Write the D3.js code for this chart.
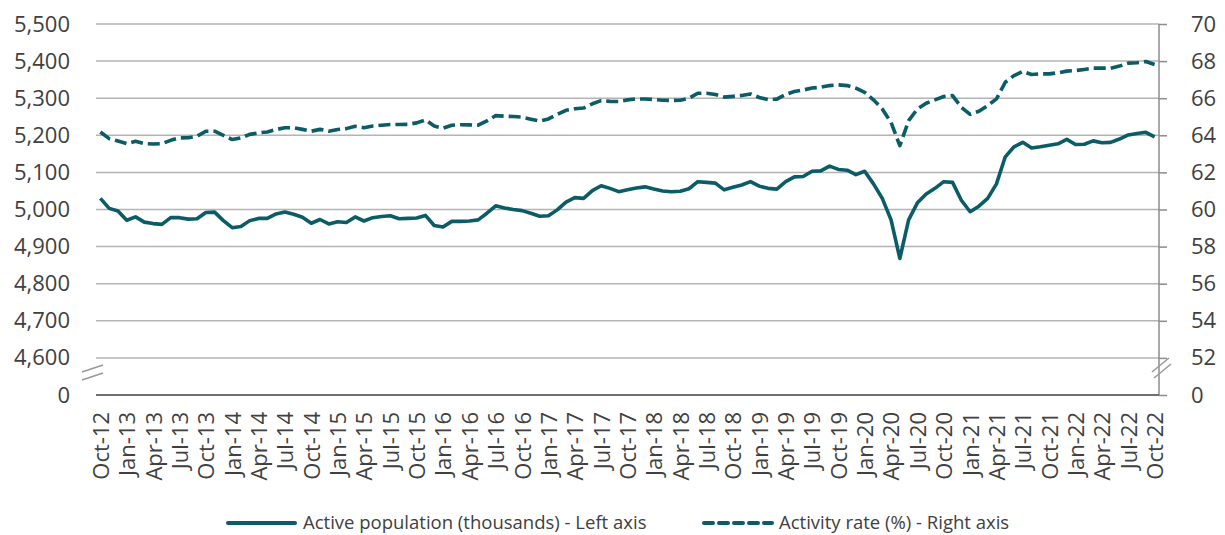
<!DOCTYPE html>
<html>
<head>
<meta charset="utf-8">
<script src="https://cdn.jsdelivr.net/npm/d3@7"></script>
<style>
  html, body { margin: 0; padding: 0; background: #fff; }
  svg text { font-family: "Open Sans", sans-serif; fill: #404040; }
</style>
</head>
<body>
<svg id="chart" width="1225" height="535"></svg>
<script>
// ---------------- DATA ----------------
const monthNames = ["Jan","Feb","Mar","Apr","May","Jun","Jul","Aug","Sep","Oct","Nov","Dec"];
const categories = [];
for (let k = 0; k < 121; k++) {
  const m = (9 + k) % 12, y = 12 + Math.floor((9 + k) / 12);
  categories.push(monthNames[m] + "-" + y);
}

const activePopulation = [
  5030,5003,4996,4971,4980,4966,4962,4960,4978,4978,4974,4975,
  4992,4993,4970,4951,4954,4970,4976,4976,4988,4993,4987,4979,
  4963,4973,4961,4967,4965,4980,4969,4978,4981,4983,4975,4976,
  4977,4984,4957,4953,4968,4968,4969,4972,4990,5010,5004,5000,
  4997,4990,4982,4983,4999,5020,5032,5030,5051,5064,5057,5048,
  5053,5058,5061,5055,5050,5048,5049,5056,5075,5073,5071,5053,
  5060,5066,5075,5063,5057,5055,5075,5088,5089,5103,5104,5117,
  5108,5106,5094,5103,5069,5030,4972,4868,4972,5018,5042,5057,
  5075,5073,5025,4994,5009,5030,5069,5142,5169,5181,5166,5169,
  5173,5177,5189,5175,5176,5185,5180,5181,5190,5201,5205,5208,
  5196
];

const activityRate = [
  64.18,63.82,63.69,63.55,63.68,63.55,63.53,63.55,63.73,63.86,63.87,63.95,
  64.22,64.22,64.00,63.77,63.86,64.05,64.13,64.18,64.31,64.41,64.40,64.32,
  64.22,64.32,64.22,64.31,64.36,64.49,64.41,64.50,64.54,64.58,64.58,64.59,
  64.67,64.83,64.50,64.38,64.54,64.57,64.56,64.55,64.78,65.06,65.03,65.01,
  64.98,64.87,64.77,64.88,65.12,65.35,65.43,65.47,65.70,65.87,65.83,65.82,
  65.91,65.96,65.96,65.93,65.89,65.88,65.89,66.00,66.27,66.27,66.20,66.06,
  66.10,66.15,66.23,66.04,65.93,65.95,66.20,66.36,66.44,66.55,66.59,66.68,
  66.72,66.68,66.54,66.32,65.91,65.42,64.70,63.44,64.79,65.42,65.73,65.91,
  66.09,66.14,65.51,65.13,65.30,65.60,65.96,66.86,67.22,67.44,67.28,67.31,
  67.31,67.37,67.46,67.49,67.55,67.62,67.62,67.62,67.73,67.89,67.91,67.98,
  67.82
];

const leftTicks = [4600,4700,4800,4900,5000,5100,5200,5300,5400,5500];
const leftZeroValue = 4500;   // position where the "0" label sits (axis break)
const rightTicks = [52,54,56,58,60,62,64,66,68,70];
const rightZeroValue = 50;
const xTickLabels = categories.filter((d, i) => i % 3 === 0);
const seriesNames = ["Active population (thousands) - Left axis", "Activity rate (%) - Right axis"];

// ---------------- LAYOUT ----------------
const color = "#0b5c66";
const svg = d3.select("#chart");
const plot = { left: 96, right: 1159, top: 24, bottom: 395 };

const x = d3.scalePoint().domain(categories).range([plot.left, plot.right]).padding(0.5);
const yL = d3.scaleLinear().domain([leftZeroValue, 5500]).range([plot.bottom, plot.top]);
const yR = d3.scaleLinear().domain([rightZeroValue, 70]).range([plot.bottom, plot.top]);

// gridlines
svg.append("g").selectAll("line").data(leftTicks).join("line")
  .attr("x1", plot.left).attr("x2", plot.right)
  .attr("y1", d => yL(d)).attr("y2", d => yL(d))
  .attr("stroke", "#b4b4b4").attr("stroke-width", 1.5);

// left axis labels
const fmt = d3.format(",");
const leftAxis = d3.axisLeft(yL).tickValues([leftZeroValue].concat(leftTicks))
  .tickFormat(d => d === leftZeroValue ? "0" : fmt(d)).tickSize(0).tickPadding(26);
const gL = svg.append("g").attr("transform", `translate(${plot.left},0)`).call(leftAxis);
gL.select(".domain").remove();
gL.selectAll("text").style("font-size", "22px").attr("fill", "#404040");

// right axis
const rightAxis = d3.axisRight(yR).tickValues([rightZeroValue].concat(rightTicks))
  .tickFormat(d => d === rightZeroValue ? "0" : d).tickSize(8).tickPadding(24);
const gR = svg.append("g").attr("transform", `translate(${plot.right},0)`).call(rightAxis);
gR.select(".domain").attr("stroke", "#8c8c8c").attr("stroke-width", 1.5)
  .attr("d", `M0,${plot.top}V${plot.bottom}`);
gR.selectAll(".tick line").attr("stroke", "#8c8c8c").attr("stroke-width", 1.5);
gR.selectAll("text").style("font-size", "22px").attr("fill", "#404040");

// x axis
const xAxis = d3.axisBottom(x).tickValues(xTickLabels).tickSize(0).tickPadding(0);
const gX = svg.append("g").attr("transform", `translate(0,${plot.bottom})`).call(xAxis);
gX.select(".domain").remove();
gX.selectAll("text")
  .style("font-size", "22px").attr("fill", "#404040")
  .attr("text-anchor", "end")
  .attr("transform", "rotate(-90)")
  .attr("x", -17).attr("y", 0).attr("dy", "0.36em");

// baseline
svg.append("line").attr("x1", plot.left).attr("x2", plot.right)
  .attr("y1", plot.bottom).attr("y2", plot.bottom)
  .attr("stroke", "#404040").attr("stroke-width", 1.5);

// axis break marks
const brk = svg.append("g").attr("stroke", "#999").attr("stroke-width", 1.5);
brk.append("line").attr("x1", 82).attr("y1", 372).attr("x2", 103).attr("y2", 365);
brk.append("line").attr("x1", 82).attr("y1", 380).attr("x2", 103).attr("y2", 373);
brk.append("line").attr("x1", 1152).attr("y1", 372).attr("x2", 1169).attr("y2", 358);
brk.append("line").attr("x1", 1154).attr("y1", 378).attr("x2", 1171).attr("y2", 364);

// lines
const lineL = d3.line().x((d, i) => x(categories[i])).y(d => yL(d));
const lineR = d3.line().x((d, i) => x(categories[i])).y(d => yR(d));

svg.append("path").datum(activityRate).attr("d", lineR)
  .attr("fill", "none").attr("stroke", color).attr("stroke-width", 3.6)
  .attr("stroke-dasharray", "12,5").attr("stroke-linejoin", "round");
svg.append("path").datum(activePopulation).attr("d", lineL)
  .attr("fill", "none").attr("stroke", color).attr("stroke-width", 3.6)
  .attr("stroke-linejoin", "round");

// legend
const leg = svg.append("g");
leg.append("line").attr("x1", 228).attr("x2", 295).attr("y1", 523).attr("y2", 523)
  .attr("stroke", color).attr("stroke-width", 4).attr("stroke-linecap", "round");
leg.append("text").attr("x", 303).attr("y", 523).attr("dy", "0.35em")
  .style("font-size", "18.5px").text(seriesNames[0]);
leg.append("line").attr("x1", 704).attr("x2", 772).attr("y1", 523).attr("y2", 523)
  .attr("stroke", color).attr("stroke-width", 4).attr("stroke-linecap", "round")
  .attr("stroke-dasharray", "9,6");
leg.append("text").attr("x", 779).attr("y", 523).attr("dy", "0.35em")
  .style("font-size", "18.5px").text(seriesNames[1]);
</script>
</body>
</html>
